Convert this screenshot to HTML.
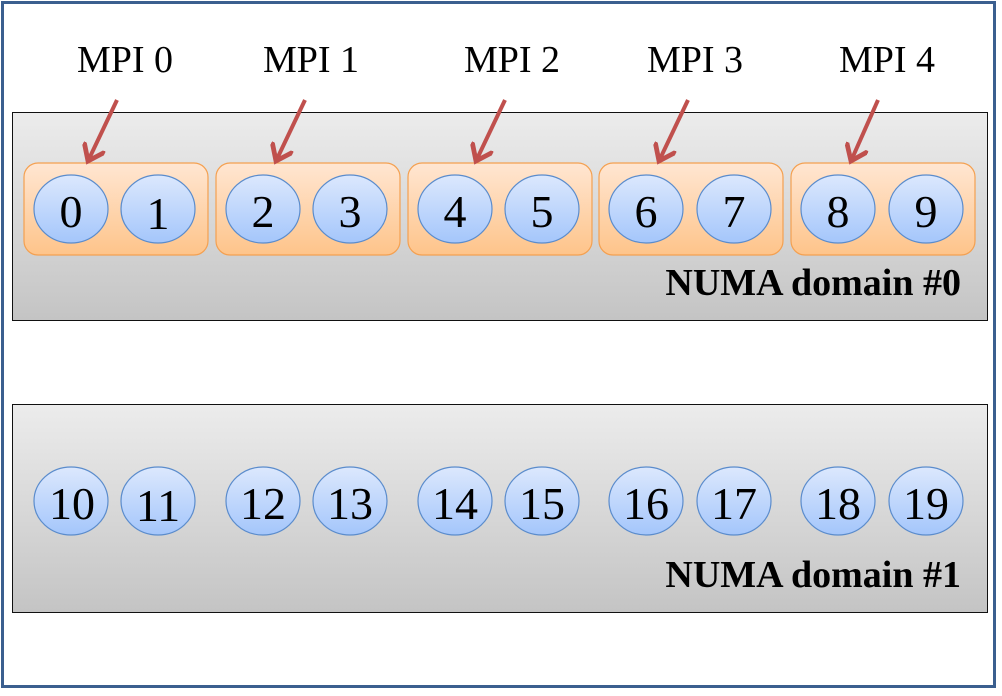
<!DOCTYPE html>
<html><head><style>body{margin:0;background:#fff}svg{display:block}</style></head><body>
<svg width="1002" height="696" viewBox="0 0 1002 696" xmlns="http://www.w3.org/2000/svg" font-family="Liberation Serif, serif">
<defs>
<linearGradient id="g" x1="0" y1="0" x2="0" y2="1"><stop offset="0" stop-color="#ececec"/><stop offset="1" stop-color="#c4c4c4"/></linearGradient>
<linearGradient id="o" x1="0" y1="0" x2="0" y2="1"><stop offset="0" stop-color="#ffe6d2"/><stop offset="1" stop-color="#fec48a"/></linearGradient>
<linearGradient id="b" x1="0" y1="0" x2="0" y2="1"><stop offset="0" stop-color="#dce8fd"/><stop offset="1" stop-color="#a4c6fb"/></linearGradient>
<marker id="ah" markerWidth="6" markerHeight="6" refX="4" refY="3" orient="auto" markerUnits="strokeWidth"><path d="M0,0 L4,3 L0,6" fill="none" stroke="#c0504d" stroke-width="1.2"/></marker>
</defs>
<rect x="2.5" y="2.5" width="992" height="684" fill="#fff" stroke="#3b5f8f" stroke-width="3"/>
<rect x="12.5" y="112.5" width="975" height="208" fill="url(#g)" stroke="#111" stroke-width="1"/>
<rect x="12.5" y="404.5" width="975" height="208" fill="url(#g)" stroke="#111" stroke-width="1"/>
<g fill="url(#o)" stroke="#f4a050" stroke-width="1.2">
<rect x="24" y="163" width="184" height="92" rx="14"/>
<rect x="216" y="163" width="184" height="92" rx="14"/>
<rect x="408" y="163" width="184" height="92" rx="14"/>
<rect x="599" y="163" width="184" height="92" rx="14"/>
<rect x="791" y="163" width="184" height="92" rx="14"/>
</g>
<g fill="url(#b)" stroke="#5b8ccc" stroke-width="1.2">
<ellipse cx="71" cy="209" rx="37" ry="34"/><ellipse cx="158" cy="209" rx="37" ry="34"/>
<ellipse cx="263" cy="209" rx="37" ry="34"/><ellipse cx="350" cy="209" rx="37" ry="34"/>
<ellipse cx="455" cy="209" rx="37" ry="34"/><ellipse cx="542" cy="209" rx="37" ry="34"/>
<ellipse cx="646" cy="209" rx="37" ry="34"/><ellipse cx="734" cy="209" rx="37" ry="34"/>
<ellipse cx="838" cy="209" rx="37" ry="34"/><ellipse cx="926" cy="209" rx="37" ry="34"/>
<ellipse cx="71" cy="501" rx="37" ry="34"/><ellipse cx="158" cy="501" rx="37" ry="34"/>
<ellipse cx="263" cy="501" rx="37" ry="34"/><ellipse cx="350" cy="501" rx="37" ry="34"/>
<ellipse cx="455" cy="501" rx="37" ry="34"/><ellipse cx="542" cy="501" rx="37" ry="34"/>
<ellipse cx="646" cy="501" rx="37" ry="34"/><ellipse cx="734" cy="501" rx="37" ry="34"/>
<ellipse cx="838" cy="501" rx="37" ry="34"/><ellipse cx="926" cy="501" rx="37" ry="34"/>
</g>
<g font-size="46" text-anchor="middle" fill="#000">
<text x="71" y="227">0</text><text x="158" y="229">1</text>
<text x="263" y="227">2</text><text x="350" y="227">3</text>
<text x="455" y="227">4</text><text x="542" y="227">5</text>
<text x="646" y="227">6</text><text x="734" y="227">7</text>
<text x="838" y="227">8</text><text x="926" y="227">9</text>
<text x="72" y="519">10</text><text x="158" y="521">11</text>
<text x="263" y="519">12</text><text x="350" y="519">13</text>
<text x="455" y="519">14</text><text x="542" y="519">15</text>
<text x="646" y="519">16</text><text x="734" y="519">17</text>
<text x="838" y="519">18</text><text x="926" y="519">19</text>
</g>
<g font-size="38" text-anchor="middle" fill="#000">
<text x="125" y="72">MPI 0</text><text x="311" y="72">MPI 1</text><text x="512" y="72">MPI 2</text><text x="695" y="72">MPI 3</text><text x="887" y="72">MPI 4</text>
</g>
<g stroke="#c0504d" stroke-width="4" marker-end="url(#ah)" fill="none">
<line x1="117" y1="100" x2="88" y2="161"/>
<line x1="305" y1="100" x2="276" y2="161"/>
<line x1="505" y1="100" x2="476" y2="161"/>
<line x1="688" y1="100" x2="659" y2="161"/>
<line x1="878" y1="100" x2="851" y2="161"/>
</g>
<g font-size="38" font-weight="bold" text-anchor="end" fill="#000">
<text x="961" y="295">NUMA domain #0</text>
<text x="961" y="587">NUMA domain #1</text>
</g>
</svg>
</body></html>
